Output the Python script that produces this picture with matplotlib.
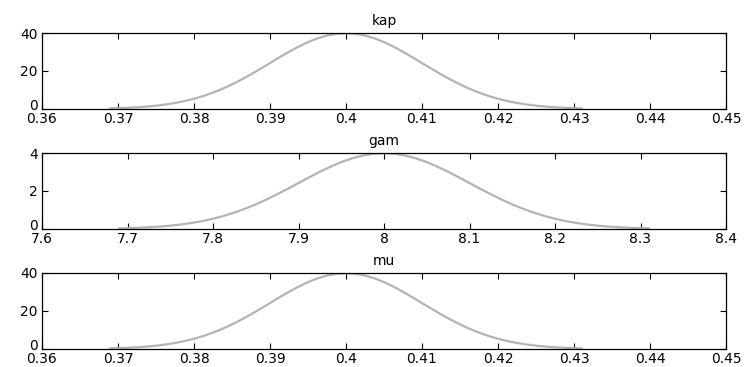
import matplotlib
matplotlib.use("Agg")
import matplotlib.pyplot as plt
from matplotlib.transforms import ScaledTranslation

# kap / mu: values
kap_x = [0.369, 0.370, 0.37125, 0.3725, 0.37375, 0.375, 0.37625, 0.3775, 0.37875, 0.380,
         0.38125, 0.3825, 0.38375, 0.385, 0.38625, 0.3875, 0.38875, 0.390, 0.39125, 0.3925,
         0.39375, 0.395, 0.39625, 0.3975, 0.39875, 0.400,
         0.40125, 0.4025, 0.40375, 0.405, 0.40625, 0.4075, 0.40875, 0.410, 0.41125, 0.4125,
         0.41375, 0.415, 0.41625, 0.4175, 0.41875, 0.420, 0.42125, 0.4225, 0.42375, 0.425,
         0.42625, 0.4275, 0.42875, 0.430, 0.431]
kap_y = [0.33, 0.44, 0.64, 0.91, 1.27, 1.75, 2.38, 3.17, 4.17, 5.40,
         6.88, 8.63, 10.65, 12.95, 15.50, 18.26, 21.19, 24.19, 27.20, 30.11,
         32.81, 35.20, 37.18, 38.66, 39.58, 39.89,
         39.58, 38.66, 37.18, 35.20, 32.81, 30.11, 27.20, 24.19, 21.19, 18.26,
         15.50, 12.95, 10.65, 8.63, 6.88, 5.40, 4.17, 3.17, 2.38, 1.75,
         1.27, 0.91, 0.64, 0.44, 0.33]

mu_x = list(kap_x)
mu_y = list(kap_y)

gam_x = [7.69, 7.70, 7.7125, 7.725, 7.7375, 7.75, 7.7625, 7.775, 7.7875, 7.80,
         7.8125, 7.825, 7.8375, 7.85, 7.8625, 7.875, 7.8875, 7.90, 7.9125, 7.925,
         7.9375, 7.95, 7.9625, 7.975, 7.9875, 8.00,
         8.0125, 8.025, 8.0375, 8.05, 8.0625, 8.075, 8.0875, 8.10, 8.1125, 8.125,
         8.1375, 8.15, 8.1625, 8.175, 8.1875, 8.20, 8.2125, 8.225, 8.2375, 8.25,
         8.2625, 8.275, 8.2875, 8.30, 8.31]
gam_y = [0.033, 0.044, 0.064, 0.091, 0.127, 0.175, 0.238, 0.317, 0.417, 0.540,
         0.688, 0.863, 1.065, 1.295, 1.550, 1.826, 2.119, 2.419, 2.720, 3.011,
         3.281, 3.520, 3.718, 3.866, 3.958, 3.989,
         3.958, 3.866, 3.718, 3.520, 3.281, 3.011, 2.720, 2.419, 2.119, 1.826,
         1.550, 1.295, 1.065, 0.863, 0.688, 0.540, 0.417, 0.317, 0.238, 0.175,
         0.127, 0.091, 0.064, 0.044, 0.033]

titles = ["kap", "gam", "mu"]
xlims = [(0.36, 0.45), (7.6, 8.4), (0.36, 0.45)]
xticks = [[0.36, 0.37, 0.38, 0.39, 0.40, 0.41, 0.42, 0.43, 0.44, 0.45],
          [7.6, 7.7, 7.8, 7.9, 8.0, 8.1, 8.2, 8.3, 8.4],
          [0.36, 0.37, 0.38, 0.39, 0.40, 0.41, 0.42, 0.43, 0.44, 0.45]]
xticklabels = [["0.36", "0.37", "0.38", "0.39", "0.4", "0.41", "0.42", "0.43", "0.44", "0.45"],
               ["7.6", "7.7", "7.8", "7.9", "8", "8.1", "8.2", "8.3", "8.4"],
               ["0.36", "0.37", "0.38", "0.39", "0.4", "0.41", "0.42", "0.43", "0.44", "0.45"]]
ylims = [(0, 40), (0, 4), (0, 40)]
yticks = [[0, 20, 40], [0, 2, 4], [0, 20, 40]]
series = [(kap_x, kap_y), (gam_x, gam_y), (mu_x, mu_y)]

plt.rcParams['font.family'] = ['DejaVu Sans']
fig = plt.figure(figsize=(7.48, 3.67), dpi=100)
W, H = 748.0, 367.0
left, right = 42, 726
tops_bottoms = [(33, 109), (153, 229), (273, 349)]

for i, (t, b) in enumerate(tops_bottoms):
    ax = fig.add_axes([left / W, 1 - b / H, (right - left) / W, (b - t) / H])
    x, y = series[i]
    ax.plot(x, y, color="#b4b4b4", lw=1.6)
    ax.set_xlim(*xlims[i])
    ax.set_ylim(*ylims[i])
    ax.set_xticks(xticks[i])
    ax.set_xticklabels(xticklabels[i])
    ax.set_yticks(yticks[i])
    ax.set_yticklabels([str(v) for v in yticks[i]])
    ax.tick_params(direction="in", length=4, width=0.8, labelsize=10, pad=2,
                   top=True, right=True, colors="black")
    ax.tick_params(axis="y", pad=3)
    # lift the "0" label so it sits just above the x tick labels
    lab0 = ax.get_yticklabels()[0]
    lab0.set_transform(lab0.get_transform() + ScaledTranslation(0, 5 / 100, fig.dpi_scale_trans))
    for s in ax.spines.values():
        s.set_linewidth(0.9)
        s.set_color("black")
    ax.set_title(titles[i], fontsize=10, pad=6)

fig.savefig("out.png", dpi=100)
